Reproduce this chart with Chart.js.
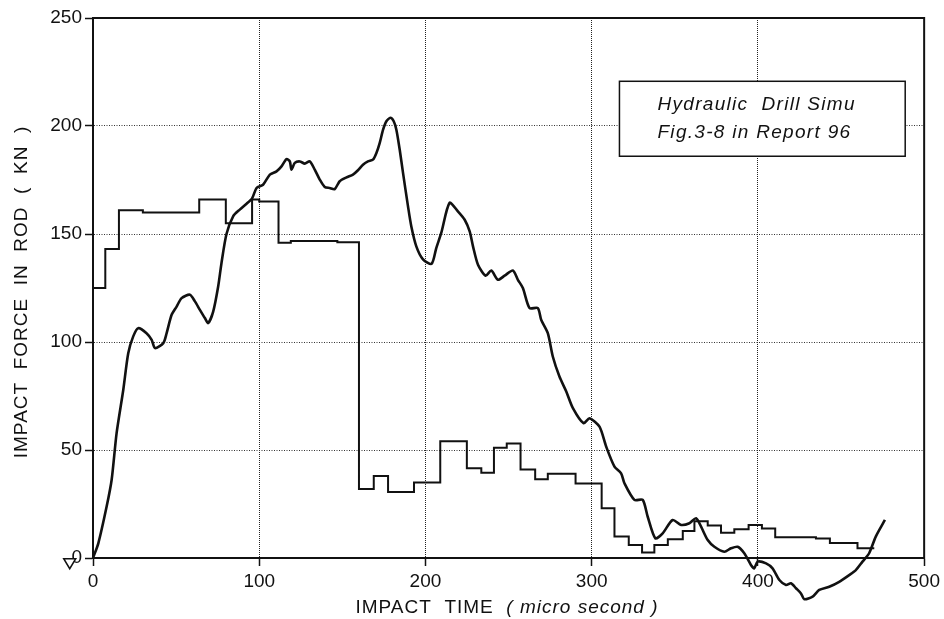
<!DOCTYPE html>
<html>
<head>
<meta charset="utf-8">
<script src="https://cdn.jsdelivr.net/npm/chart.js@4/dist/chart.umd.min.js"></script>
<style>
html,body{margin:0;padding:0;background:#fff;}
#wrap{width:944px;height:619px;position:relative;}
canvas{display:block;}
</style>
</head>
<body>
<div id="wrap"><canvas id="c" width="944" height="619"></canvas></div>
<script>
// ---- data ----
const forceTime = [0,3.2,8.2,11.2,14.2,18.2,21.2,24.2,27.2,32.2,35.3,37.3,42.3,44.3,47.3,50.3,53.3,58.3,61.3,64.3,67.3,69.3,72.3,75.3,77.3,80.3,84.3,88.3,92.4,95.7,98.4,102.3,106.4,110.4,113.4,116.4,118.4,119.4,121.4,124.4,127.4,130.4,133.4,136.4,139.4,142.4,145.4,148.4,152.5,156.4,159.4,162.4,165.4,168.4,170.5,172.5,174.5,176.5,178.9,180.9,182.5,184.5,186.5,189.5,191.5,194.5,198.5,203.7,206.5,209.5,214.5,219.5,223.6,226.6,228.6,231.6,236.2,239.6,243.6,247.6,252.6,255.6,258.6,262.6,267.6,269.6,273.6,276.6,280.6,284.7,288.7,295.1,298.7,304.7,308.7,313.7,317.7,319.7,325.7,330.7,333.7,338.3,342.7,348.7,353.8,358.8,362.8,365.8,369.8,373.8,379.8,383.8,387.8,391.8,395.8,397.8,399.8,404.9,408.8,412.9,416.9,419.9,422.9,425.9,427.9,432.9,436.9,442.9,448.9,454.9,458.9,462.9,466.9,470.9,476.4];
const forceValue = [0,6.8,23.8,36.1,57.8,77.8,94.8,102.6,106.4,104.1,101,97.2,99.5,104.1,112.6,116.4,120.3,121.9,118.8,114.9,111.1,108.8,114.1,125.7,136.6,150,158.2,161.3,164,166.5,171.3,172.8,177.5,179,181.3,184.7,183.6,179.8,182.9,183.6,182.6,183.6,179.8,175.2,171.8,171.3,170.8,174.4,176.2,177.5,179.5,182.1,183.6,184.4,187.5,192.2,198.3,202.2,203.8,202.2,198.3,189.1,178.3,162.8,153.5,144.3,138.3,136.2,143.5,150.5,164.4,160.5,156.6,151.2,144.3,135.8,130.7,133.1,128.8,130.7,133.1,128.8,125,115.7,115.7,110.3,104.1,93.3,84,77.1,69.4,62.4,64.7,60.8,51.6,42.3,39.2,34.6,26.9,26.9,19.1,9.1,11.4,17.6,15.3,16.1,18.4,14.5,8.3,5.2,2.9,4.5,5.2,2.2,-3.2,-4.8,-1.7,-2.5,-4.8,-10.2,-12.5,-11.7,-14,-16.4,-19.1,-17.9,-14.8,-13.3,-11,-7.9,-5.6,-1.7,2.2,9.9,17.6];

// step series: value holds from its time until the next time
const stepTime  = [0,7.4,15.6,30,63.9,79.9,95.7,100,111.6,119,147,160,168.9,177.5,193.1,208.9,224.9,233.6,241.2,248.9,257.2,266,273.6,290.3,306,313.7,322.3,330.3,337.7,345.8,354.8,361.8,369.8,377.8,385.8,394.4,402.4,410.4,434.9,443.3,459.9,470];
const stepValue = [125,143,161,160,166,155,166,165,146,146.8,146.2,32,38,30.5,35,54,41.5,39.5,51,53,41,36.5,39,34.5,23,10,6,2.6,6,8.7,12.5,17,15,11.7,13.3,15.3,13.6,9.6,9,7,4.5,4.5];

const markerTime = [-14];
const markerValue = [-2.2];

const xTicks = [0,100,200,300,400,500];
const yTicks = [0,50,100,150,200,250];

const boxLines = ['Hydraulic  Drill Simu', 'Fig.3-8 in Report 96'];
const xTitleUpright = 'IMPACT  TIME  ';
const xTitleItalic = '( micro second )';
const yTitle = 'IMPACT  FORCE  IN  ROD  (  KN  )';

// ---- chart ----
const FONT = "'Liberation Sans', Arial, Helvetica, sans-serif";
const INK = '#111';

// convert step series to explicit stepped points for Chart.js ('before' = hold value until next x)
const stepPoints = stepTime.map((t, i) => ({x: t, y: stepValue[i]}));

const decor = {
  id: 'decor',
  beforeDatasetsDraw(chart) {
    const {ctx, chartArea: a} = chart;
    ctx.save();
    ctx.strokeStyle = INK;
    ctx.lineWidth = 2;
    ctx.setLineDash([]);
    ctx.strokeRect(a.left, a.top, a.right - a.left, a.bottom - a.top);
    ctx.restore();
  },
  afterDraw(chart) {
    const {ctx, scales} = chart;
    const xs = scales.x, ys = scales.y;
    ctx.save();
    // hollow down-triangle marker near the origin
    ctx.strokeStyle = INK;
    ctx.fillStyle = '#fff';
    ctx.lineWidth = 1.5;
    markerTime.forEach((t, i) => {
      const px = xs.getPixelForValue(t), py = ys.getPixelForValue(markerValue[i]);
      ctx.beginPath();
      ctx.moveTo(px - 6, py - 4);
      ctx.lineTo(px + 6, py - 4);
      ctx.lineTo(px, py + 6);
      ctx.closePath();
      ctx.fill();
      ctx.stroke();
    });

    // note box
    const bx1 = xs.getPixelForValue(316.7), bx2 = xs.getPixelForValue(488.6);
    const by1 = ys.getPixelForValue(220.7), by2 = ys.getPixelForValue(186);
    ctx.fillStyle = '#fff';
    ctx.fillRect(bx1, by1, bx2 - bx1, by2 - by1);
    ctx.strokeStyle = INK;
    ctx.lineWidth = 1.5;
    ctx.strokeRect(bx1, by1, bx2 - bx1, by2 - by1);
    ctx.fillStyle = INK;
    ctx.font = 'italic 19px ' + FONT;
    ctx.textAlign = 'left';
    ctx.textBaseline = 'alphabetic';
    try { ctx.letterSpacing = '1.3px'; } catch(e) {}
    ctx.fillText(boxLines[0], bx1 + 38, by1 + 29);
    ctx.fillText(boxLines[1], bx1 + 38, by1 + 57);

    // x axis title (upright + italic parts)
    try { ctx.letterSpacing = '1px'; } catch(e) {}
    ctx.font = '19px ' + FONT;
    const w1 = ctx.measureText(xTitleUpright).width;
    ctx.font = 'italic 19px ' + FONT;
    const w2 = ctx.measureText(xTitleItalic).width;
    const cx = 507;
    const x0 = cx - (w1 + w2) / 2;
    ctx.font = '19px ' + FONT;
    ctx.fillText(xTitleUpright, x0, 613);
    ctx.font = 'italic 19px ' + FONT;
    ctx.fillText(xTitleItalic, x0 + w1, 613);

    // y axis title
    ctx.font = '19px ' + FONT;
    ctx.translate(27, 292);
    ctx.rotate(-Math.PI / 2);
    ctx.textAlign = 'center';
    ctx.fillText(yTitle, 0, 0);
    ctx.restore();
  }
};

const ctx = document.getElementById('c').getContext('2d');
new Chart(ctx, {
  type: 'line',
  data: {
    datasets: [
      {
        label: 'Impact force (simulated)',
        data: forceTime.map((t, i) => ({x: t, y: forceValue[i]})),
        borderColor: INK,
        borderWidth: 2.6,
        pointRadius: 0,
        tension: 0.25,
        fill: false,
        clip: false
      },
      {
        label: 'Impact force (step)',
        data: stepPoints,
        borderColor: INK,
        borderWidth: 2,
        pointRadius: 0,
        stepped: 'before',
        fill: false,
        clip: false
      }
    ]
  },
  options: {
    responsive: false,
    animation: false,
    devicePixelRatio: 1,
    layout: {padding: {left: 0, right: 19, top: 18, bottom: 0}},
    plugins: {legend: {display: false}, tooltip: {enabled: false}, title: {display: false}},
    scales: {
      x: {
        type: 'linear',
        min: 0, max: 500,
        afterBuildTicks: s => { s.ticks = xTicks.map(v => ({value: v})); },
        afterFit: s => { s.height = 61; },
        ticks: {color: INK, font: {family: FONT, size: 19}, padding: 4, maxRotation: 0, autoSkip: false},
        grid: {color: '#222', lineWidth: 1, tickLength: 8, tickColor: INK, tickWidth: 1.5},
        border: {color: INK, width: 2, dash: [1, 1]}
      },
      y: {
        type: 'linear',
        min: 0, max: 250,
        afterBuildTicks: s => { s.ticks = yTicks.map(v => ({value: v})); },
        afterFit: s => { s.width = 93; },
        ticks: {color: INK, font: {family: FONT, size: 19}, padding: 3, autoSkip: false},
        grid: {color: '#333', lineWidth: 1, tickLength: 8, tickColor: INK, tickWidth: 1.5},
        border: {color: INK, width: 2, dash: [1, 1.5]}
      }
    }
  },
  plugins: [decor]
});
</script>
</body>
</html>
